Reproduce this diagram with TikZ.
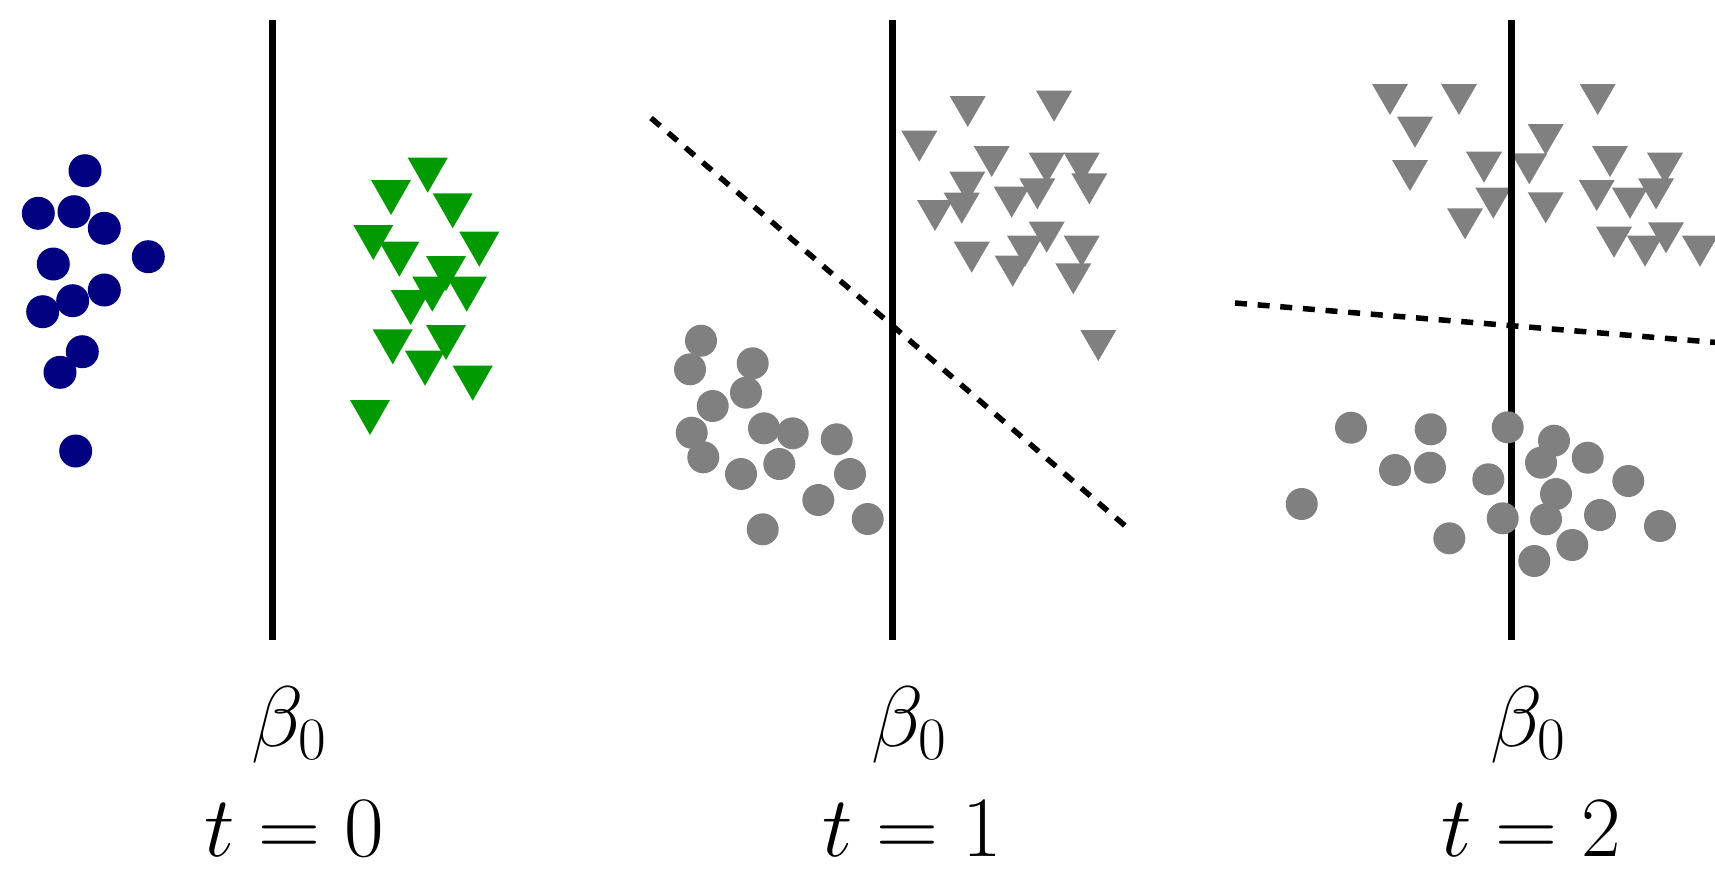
\RequirePackage{fix-cm}
\documentclass[tikz,border=0pt]{standalone}
\usepackage{xcolor}
\definecolor{navyc}{RGB}{0,0,128}
\definecolor{greenc}{RGB}{0,153,0}
\definecolor{grayc}{RGB}{128,128,128}
\begin{document}
\begin{tikzpicture}[x=1pt,y=-1pt,
  axisline/.style={line width=7pt,black},
  sepline/.style={line width=5.5pt,black,dash pattern=on 12pt off 10.7pt},
  lbl/.style={font=\fontsize{86}{100}\selectfont,inner sep=0pt}]
\useasboundingbox (0,0) rectangle (1715,884);
\clip (0,0) rectangle (1715,884);
% green triangles (t=0)
\foreach \x/\y in {427.7/157.7,391/180,452.7/193.3,373.3/225,479.3/231.7,399.3/241.7,446/256,432.3/276.7,466.7/276.7,410.7/290,392.7/329.3,446/325,425/350.7,472.7/365.7,370/400}
  \fill[greenc] (\x-20,\y) -- (\x+20,\y) -- (\x,\y+35) -- cycle;
% gray triangles (t=1)
\foreach \x/\y in {967.7/96,1054/90.7,919.3/130.7,991.7/146,1046.7/152.7,1081.7/152.7,967.3/171.7,1089.3/173.3,1037.3/178.3,1011.7/186.7,961.7/192.7,935/200,1046.7/221.7,1025/235.7,1081.7/235.7,971.7/241.7,1012.7/255.7,1073.3/263.3,1098.3/330}
  \fill[grayc] (\x-18,\y) -- (\x+18,\y) -- (\x,\y+31) -- cycle;
% gray triangles (t=2)
\foreach \x/\y in {1390/84,1459/84,1597.7/84,1415/116.7,1545.7/124,1410/160,1484/151.7,1529.3/153.3,1610/146,1665/152.7,1493.3/187.7,1596.7/180,1630/187.7,1656/178.3,1545.7/192.3,1465/208.3,1614/226.7,1666/222.3,1645/235.7,1700/235.7}
  \fill[grayc] (\x-18,\y) -- (\x+18,\y) -- (\x,\y+31) -- cycle;
% vertical lines
\coordinate (v0a) at (272,20); \coordinate (v0b) at (272,640);
\coordinate (v1a) at (892,20); \coordinate (v1b) at (892,640);
\coordinate (v2a) at (1511,20); \coordinate (v2b) at (1511,640);
\draw[axisline] (v0a) -- (v0b);
\draw[axisline] (v1a) -- (v1b);
\draw[axisline] (v2a) -- (v2b);
% dashed separators
\coordinate (d1a) at (651,118); \coordinate (d1b) at (1130,530);
\coordinate (d2a) at (1235,303); \coordinate (d2b) at (1718,342.6);
\draw[sepline] (d1a) -- (d1b);
\draw[sepline] (d2a) -- (d2b);
% navy circles (t=0)
\foreach \x/\y in {85/170.7,38.3/213.3,74/211.7,104.3/228.3,148.3/256.7,53.3/264,104.3/290,72.7/300.7,42.7/311.7,82.3/351.7,60/372.3,75.7/451}
  \fill[navyc] (\x,\y) circle (16.5);
% gray circles (t=1)
\foreach \x/\y in {701/340.7,690/369.3,752.7/363.3,746/392.7,712.7/406,691.7/432.7,764/428.3,792.7/433.3,836.7/439.3,703.3/457.3,741/474,779.3/464,850/474,818.3/500,867.7/519,762.7/529.3}
  \fill[grayc] (\x,\y) circle (16);
% gray circles (t=2)
\foreach \x/\y in {1351/427.7,1430.7/429.3,1507.7/427.3,1554/440.7,1395/470,1430/467.7,1541/462.7,1587.7/457.7,1488.3/479.3,1628.3/481,1301.7/504,1556/494,1502.7/518.3,1546/519.3,1600/515,1660/526,1449.3/538.3,1572.3/545,1534.3/561}
  \fill[grayc] (\x,\y) circle (16);
% labels
\node[lbl] (b0) at (289,725) {$\beta_0$};
\node[lbl] (t0) at (294,829) {$t=0$};
\node[lbl] (b1) at (909,725) {$\beta_0$};
\node[lbl] (t1) at (912,829) {$t=1$};
\node[lbl] (b2) at (1528,725) {$\beta_0$};
\node[lbl] (t2) at (1531,829) {$t=2$};
\end{tikzpicture}
\end{document}
